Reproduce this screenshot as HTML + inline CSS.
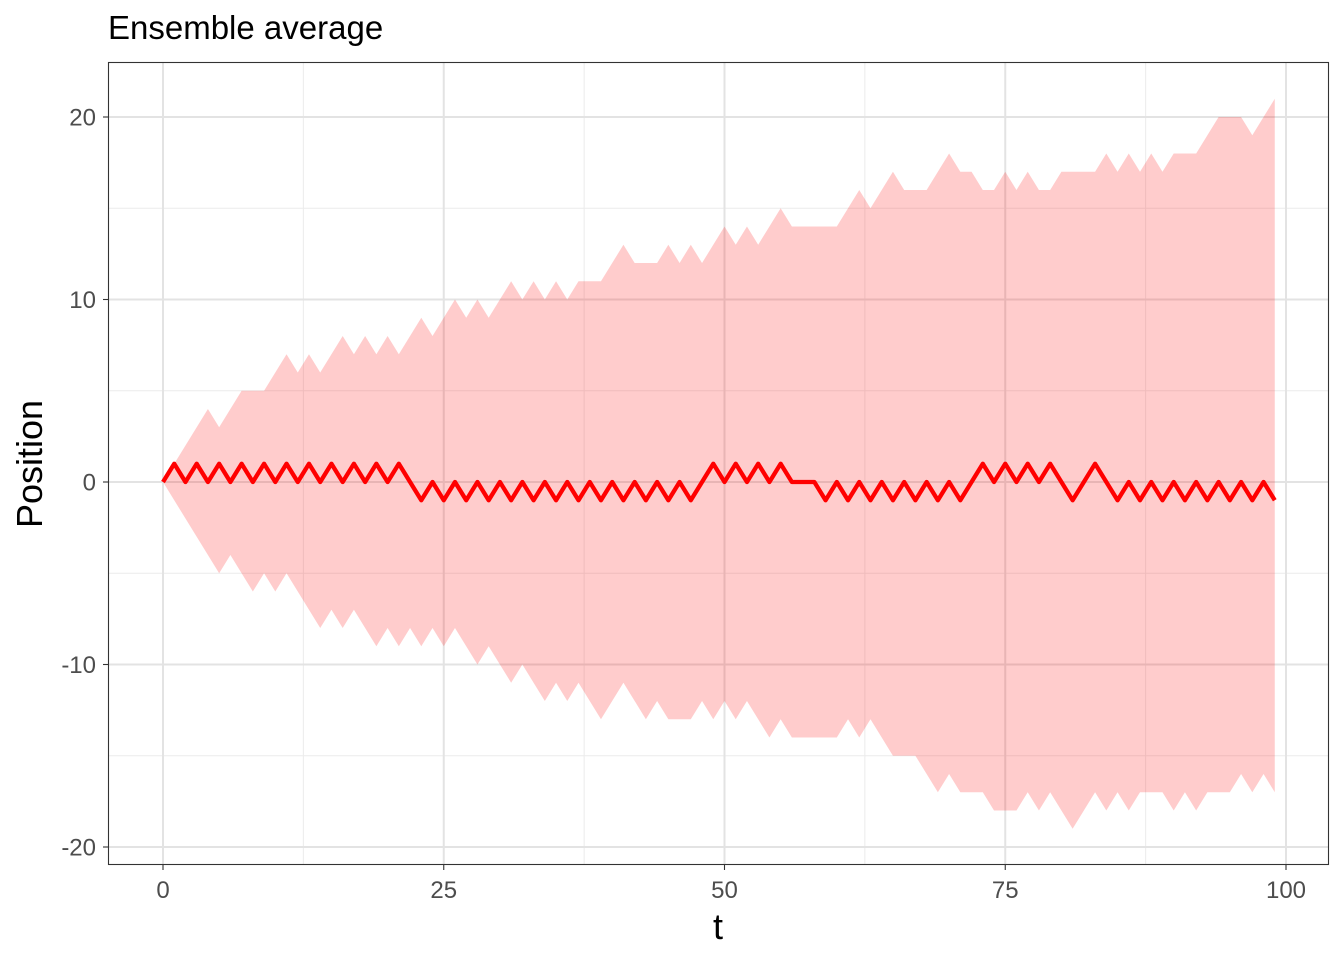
<!DOCTYPE html>
<html><head><meta charset="utf-8"><style>
body{margin:0;background:#fff;font-family:"Liberation Sans",Arial,sans-serif}
svg text{font-family:"Liberation Sans",Arial,sans-serif}
</style></head><body>
<svg id="chart" width="1344" height="960" viewBox="0 0 1344 960" xmlns="http://www.w3.org/2000/svg">
<rect width="1344" height="960" fill="#fff"/>
<text x="108" y="39" font-size="33" fill="#000">Ensemble average</text>
<g id="grid"></g>
<g id="band"></g>
<g id="line"></g>
<rect x="108.5" y="62.5" width="1220" height="802" fill="none" stroke="#333" stroke-width="1.1"/>
<g id="axes"></g>
<text x="718" y="939" font-size="36" text-anchor="middle" fill="#000">t</text>
<text transform="translate(42,464) rotate(-90)" font-size="36" text-anchor="middle" fill="#000">Position</text>
</svg>
<script>
const tValues=Array.from({length:100},(_,i)=>i);
const meanValues=[0,1,0,1,0,1,0,1,0,1,0,1,0,1,0,1,0,1,0,1,0,1,0,-1,0,-1,0,-1,0,-1,0,-1,0,-1,0,-1,0,-1,0,-1,0,-1,0,-1,0,-1,0,-1,0,1,0,1,0,1,0,1,0,0,0,-1,0,-1,0,-1,0,-1,0,-1,0,-1,0,-1,0,1,0,1,0,1,0,1,0,-1,0,1,0,-1,0,-1,0,-1,0,-1,0,-1,0,-1,0,-1,0,-1,0,-1];
const upperValues=[0,1,2,3,4,3,4,5,5,5,6,7,6,7,6,7,8,7,8,7,8,7,8,9,8,9,10,9,10,9,10,11,10,11,10,11,10,11,11,11,12,13,12,12,12,13,12,13,12,13,14,13,14,13,14,15,14,14,14,14,14,15,16,15,16,17,16,16,16,17,18,17,17,16,16,17,16,17,16,16,17,17,17,17,18,17,18,17,18,17,18,18,18,19,20,20,20,19,20,21];
const lowerValues=[0,-1,-2,-3,-4,-5,-4,-5,-6,-5,-6,-5,-6,-7,-8,-7,-8,-7,-8,-9,-8,-9,-8,-9,-8,-9,-8,-9,-10,-9,-10,-11,-10,-11,-12,-11,-12,-11,-12,-13,-12,-11,-12,-13,-12,-13,-13,-13,-12,-13,-12,-13,-12,-13,-14,-13,-14,-14,-14,-14,-14,-13,-14,-13,-14,-15,-15,-15,-16,-17,-16,-17,-17,-17,-18,-18,-18,-17,-18,-17,-18,-19,-18,-17,-18,-17,-18,-17,-17,-17,-18,-17,-18,-17,-17,-17,-16,-17,-16,-17];
const xTicks=[0,25,50,75,100];
const yTicks=[-20,-10,0,10,20];
const xMinor=[12.5,37.5,62.5,87.5];
const yMinor=[-15,-5,5,15];

const X=v=>163+v*11.23;
const Y=v=>482-v*18.25;
const NS='http://www.w3.org/2000/svg';
function mk(tag,parent,attrs){const e=document.createElementNS(NS,tag);for(const k in attrs)e.setAttribute(k,attrs[k]);parent.appendChild(e);return e;}
const grid=document.getElementById('grid');
xMinor.forEach(v=>{const l=mk('line',grid,{x1:X(v),x2:X(v),y1:63,y2:864,stroke:'#ebebeb','stroke-width':1});

});
yMinor.forEach(v=>{const l=mk('line',grid,{x1:109,x2:1328,y1:Y(v),y2:Y(v),stroke:'#ebebeb','stroke-width':1});

});
xTicks.forEach(v=>{const l=mk('line',grid,{x1:X(v),x2:X(v),y1:63,y2:864,stroke:'#e3e3e3','stroke-width':2});

});
yTicks.forEach(v=>{const l=mk('line',grid,{x1:109,x2:1328,y1:Y(v),y2:Y(v),stroke:'#e3e3e3','stroke-width':2});

});

let d='M'+tValues.map((t,i)=>X(t)+','+Y(upperValues[i])).join('L');
for(let i=tValues.length-1;i>=0;i--)d+='L'+X(tValues[i])+','+Y(lowerValues[i]);
d+='Z';
const band=mk('path',document.getElementById('band'),{d:d,fill:'#ff0000','fill-opacity':0.2});



const ml=mk('polyline',document.getElementById('line'),{points:tValues.map((t,i)=>X(t)+','+Y(meanValues[i])).join(' '),fill:'none',stroke:'#ff0000','stroke-width':4.3,'stroke-linejoin':'round'});



const axes=document.getElementById('axes');
xTicks.forEach(v=>{const tk=mk('line',axes,{x1:X(v),x2:X(v),y1:865,y2:870,stroke:'#333','stroke-width':1.1});


const tx=mk('text',axes,{x:X(v),y:898,'font-size':24,'text-anchor':'middle',fill:'#4d4d4d'});tx.textContent=v;

});
yTicks.forEach(v=>{const tk=mk('line',axes,{x1:103,x2:108,y1:Y(v),y2:Y(v),stroke:'#333','stroke-width':1.1});


const tx=mk('text',axes,{x:96,y:Y(v)+8.5,'font-size':24,'text-anchor':'end',fill:'#4d4d4d'});tx.textContent=v;

});
</script>
</body></html>
